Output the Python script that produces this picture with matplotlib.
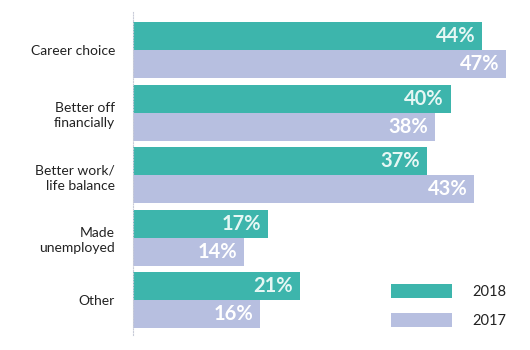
import matplotlib
matplotlib.use("Agg")
import matplotlib.pyplot as plt
import numpy as np

plt.rcParams['font.family'] = ['Lato', 'DejaVu Sans']

# Datos
categorias = ["Career choice", "Better off\nfinancially", "Better work/\nlife balance",
              "Made\nunemployed", "Other"]
valores_2018 = [44, 40, 37, 17, 21]
valores_2017 = [47, 38, 43, 14, 16]

color_2018 = "#3db5ac"
color_2017 = "#b7bfe0"

fig = plt.figure(figsize=(5.3, 3.5), dpi=100)
ax = fig.add_axes([133 / 530, 15 / 350, 397 / 530, 323 / 350])

y = np.arange(len(categorias))
alto = 0.448

ax.barh(y - alto / 2, valores_2018, height=alto, color=color_2018, label="2018")
ax.barh(y + alto / 2, valores_2017, height=alto, color=color_2017, label="2017")

# Etiquetas de valor dentro de las barras
for yi, v in zip(y, valores_2018):
    ax.text(v - 0.85, yi - alto / 2, f"{v}%", ha="right", va="center",
            color="#e6f7f4", fontsize=14.5, fontweight="bold")
for yi, v in zip(y, valores_2017):
    ax.text(v - 0.85, yi + alto / 2, f"{v}%", ha="right", va="center",
            color="white", fontsize=14.5, fontweight="bold")

ax.set_xlim(0, 50)
ax.set_ylim(len(categorias) - 1 + 0.56, -0.61)
ax.set_yticks(y)
ax.set_yticklabels(categorias, fontsize=10, color="#222222", linespacing=1.35)
ax.tick_params(axis="y", length=0, pad=13)
ax.set_xticks([])

for s in ["top", "right", "bottom"]:
    ax.spines[s].set_visible(False)
ax.spines["left"].set_linestyle((0, (1, 1.5)))
ax.spines["left"].set_color("#c8cbd8")
ax.spines["left"].set_linewidth(0.8)

leg = ax.legend(loc="lower left", bbox_to_anchor=(0.65, 0.022), frameon=False,
                fontsize=10.5, handlelength=4.2, handleheight=1.1,
                labelspacing=0.95, handletextpad=1.4, borderaxespad=0, borderpad=0)
for t in leg.get_texts():
    t.set_color("#222222")

fig.savefig("out.png", dpi=100)
